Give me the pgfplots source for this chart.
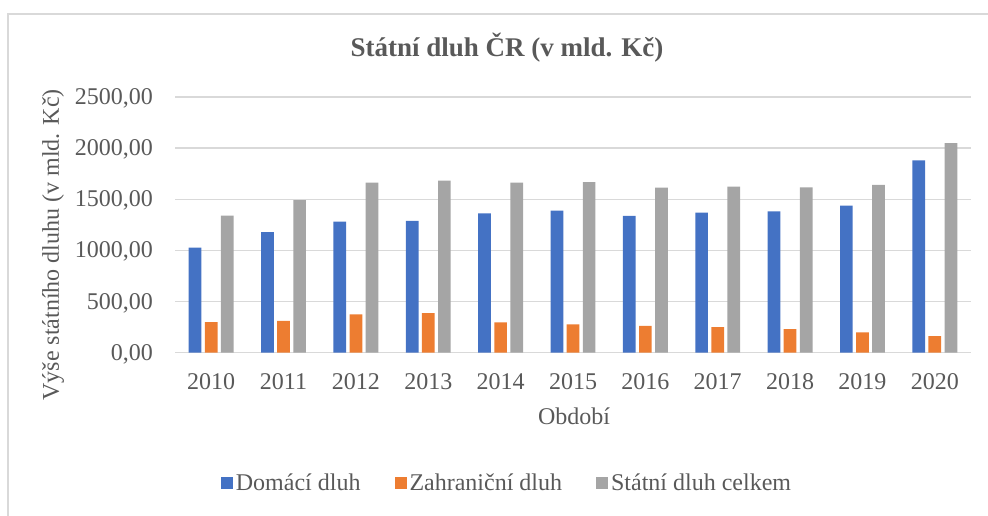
\documentclass[border=0pt]{standalone}
\usepackage{pgfplots}
\pgfplotsset{compat=1.18}
\usepackage{fontspec}
\setmainfont{Liberation Serif}
\definecolor{cblue}{HTML}{4472C4}
\definecolor{corange}{HTML}{ED7D31}
\definecolor{cgray}{HTML}{A5A5A5}
\definecolor{gridc}{HTML}{D9D9D9}
\definecolor{txt}{HTML}{595959}
\newcommand\f{\fontsize{24bp}{28bp}\selectfont}
\begin{document}
\begin{tikzpicture}
\draw[gridc, line width=1.3bp] (8bp,-516bp) -- (8bp,-14bp) -- (988bp,-14bp);
\begin{axis}[
  at={(175bp,-352.7bp)}, anchor=south west,
  scale only axis, width=796bp, height=255.7bp,
  xmin=-0.5, xmax=10.5, ymin=0, ymax=2500,
  ytick={0,500,1000,1500,2000,2500},
  xtick=data,
  xticklabels={2010,2011,2012,2013,2014,2015,2016,2017,2018,2019,2020},
  ybar=3.4bp, bar width=12.7bp,
  axis line style={draw=none},
  major tick length=0pt,
  ymajorgrids, grid style={draw=gridc, line width=1.3bp},
  /pgf/number format/assume math mode=true,
  tick label style={font=\f, text=txt, inner sep=0pt},
  xticklabel style={anchor=base, yshift=-36.3bp},
  yticklabel style={anchor=base east, xshift=-22bp, yshift=-7.5bp,
     /pgf/number format/.cd, fixed, fixed zerofill, precision=2, use comma, 1000 sep={}},
  legend columns=3,
  legend style={at={(0.4158,-0.5096)}, anchor=center, draw=none, fill=none,
     font=\f, text=txt, nodes={inner sep=0pt},
     /tikz/every odd column/.append style={column sep=3bp},
     /tikz/every even column/.append style={column sep=34bp}},
  legend image code/.code={\fill[#1] (0bp,-6bp) rectangle (12bp,6bp);},
]
\addplot[fill=cblue, draw=none] coordinates {(0,1028) (1,1180) (2,1282) (3,1288) (4,1363) (5,1389) (6,1337) (7,1370) (8,1382) (9,1438) (10,1880)};
\addplot[fill=corange, draw=none] coordinates {(0,300) (1,312) (2,374) (3,387) (4,296) (5,277) (6,263) (7,251) (8,231) (9,199) (10,163)};
\addplot[fill=cgray, draw=none] coordinates {(0,1340) (1,1493) (2,1662) (3,1682) (4,1662) (5,1668) (6,1613) (7,1623) (8,1617) (9,1640) (10,2049)};
\legend{Domácí dluh, Zahraniční dluh, Státní dluh celkem}
\end{axis}
\node[anchor=base, text=txt, inner sep=0pt, font=\fontsize{27bp}{31bp}\selectfont\bfseries] at (507bp,-56bp) {Státní dluh ČR (v mld. Kč)};
\node[rotate=90, anchor=center, text=txt, inner sep=0pt, font=\f] at (53bp,-245bp) {Výše státního dluhu (v mld. Kč)};
\node[anchor=center, text=txt, inner sep=0pt, font=\f] at (574bp,-416bp) {Období};
\pgfresetboundingbox
\useasboundingbox (0,0) rectangle (988bp,-516bp);
\end{tikzpicture}
\end{document}
